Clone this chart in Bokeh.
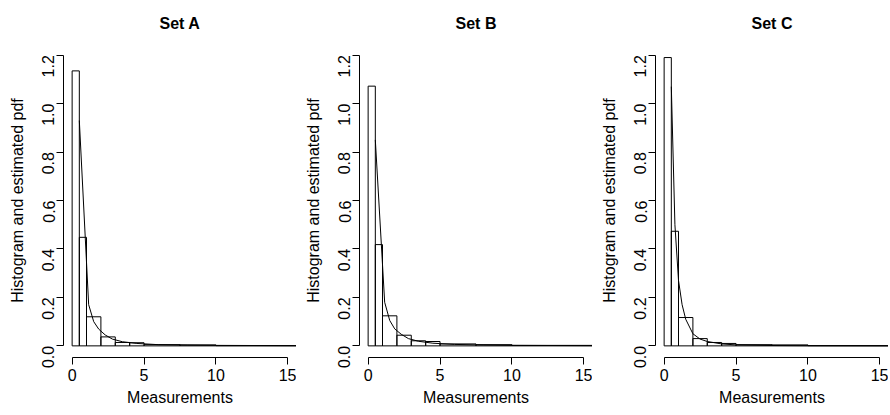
import math
from bokeh.plotting import figure
from bokeh.layouts import row
from bokeh.models import Range1d, FixedTicker, PrintfTickFormatter, Title
from bokeh.embed import file_html
from bokeh.resources import INLINE

# ---- data ----
titles = ["Set A", "Set B", "Set C"]
bin_edges = [0, 0.5, 1, 2, 3, 4, 5, 7.5, 10, 20]

hist_a = [1.135, 0.448, 0.120, 0.037, 0.014, 0.013, 0.005, 0.004, 0.001]
hist_b = [1.072, 0.418, 0.124, 0.044, 0.021, 0.018, 0.008, 0.005, 0.002]
hist_c = [1.190, 0.473, 0.117, 0.030, 0.014, 0.010, 0.005, 0.004, 0.001]

pdf_x_a = [0.5, 1.15, 1.5, 1.85, 2.3, 2.8, 3.5, 4.5, 6, 8, 10, 15, 20]
pdf_y_a = [0.93, 0.17, 0.10, 0.069, 0.045, 0.028, 0.017, 0.010, 0.005, 0.003, 0.002, 0.001, 0.0005]
pdf_x_b = [0.5, 1.15, 1.5, 1.85, 2.3, 2.8, 3.5, 4.5, 6, 8, 10, 15, 20]
pdf_y_b = [0.85, 0.18, 0.105, 0.07, 0.048, 0.030, 0.019, 0.011, 0.006, 0.0035, 0.002, 0.001, 0.0005]
pdf_x_c = [0.5, 0.75, 1.0, 1.25, 1.5, 2.0, 2.5, 3.0, 4.0, 5.0, 7.5, 10, 15, 20]
pdf_y_c = [1.07, 0.50, 0.27, 0.17, 0.11, 0.05, 0.028, 0.018, 0.008, 0.004, 0.0015, 0.0007, 0.0003, 0.0001]

x_ticks = [0, 5, 10, 15]
y_ticks = [0.0, 0.2, 0.4, 0.6, 0.8, 1.0, 1.2]
x_label = "Measurements"
y_label = "Histogram and estimated pdf"

FONT = "Liberation Sans"
FS = "16px"


def panel(title, heights, px, py):
    p = figure(frame_width=233, frame_height=314,
               min_border_left=63, min_border_right=0,
               min_border_top=43, min_border_bottom=58,
               x_range=Range1d(-0.6, 15.6), y_range=Range1d(-0.048, 1.248),
               output_backend="svg", toolbar_location=None)
    t = Title(text=title, align="center", text_font=FONT,
              text_font_size=FS, text_font_style="bold", text_color="black",
              standoff=23)
    p.add_layout(t, "above")
    p.outline_line_color = None
    p.xgrid.visible = False
    p.ygrid.visible = False
    p.background_fill_color = "white"
    p.border_fill_color = "white"

    p.quad(left=bin_edges[:-1], right=bin_edges[1:], top=heights, bottom=0,
           fill_color=None, line_color="black", line_width=1)
    p.line(px, py, line_color="black", line_width=1)

    for ax in (p.xaxis[0], p.yaxis[0]):
        ax.axis_line_color = "black"
        ax.major_tick_line_color = "black"
        ax.major_tick_out = 7
        ax.major_tick_in = 0
        ax.minor_tick_line_color = None
        ax.major_label_text_font = FONT
        ax.major_label_text_font_size = FS
        ax.major_label_text_color = "black"
        ax.axis_label_text_font = FONT
        ax.axis_label_text_font_size = FS
        ax.axis_label_text_font_style = "normal"
        ax.axis_label_text_color = "black"

    xa = p.xaxis[0]
    xa.ticker = FixedTicker(ticks=x_ticks)
    xa.bounds = (x_ticks[0], x_ticks[-1])
    xa.axis_label = x_label
    xa.major_label_standoff = 4
    xa.axis_label_standoff = 5

    ya = p.yaxis[0]
    ya.ticker = FixedTicker(ticks=y_ticks)
    ya.formatter = PrintfTickFormatter(format="%.1f")
    ya.bounds = (y_ticks[0], y_ticks[-1])
    ya.axis_label = y_label
    ya.major_label_orientation = math.pi / 2
    ya.major_label_standoff = 8
    ya.axis_label_standoff = 8
    return p


p1 = panel(titles[0], hist_a, pdf_x_a, pdf_y_a)
p2 = panel(titles[1], hist_b, pdf_x_b, pdf_y_b)
p3 = panel(titles[2], hist_c, pdf_x_c, pdf_y_c)

layout = row(p1, p2, p3, spacing=0)
open("out.html", "w").write(file_html(layout, INLINE))
